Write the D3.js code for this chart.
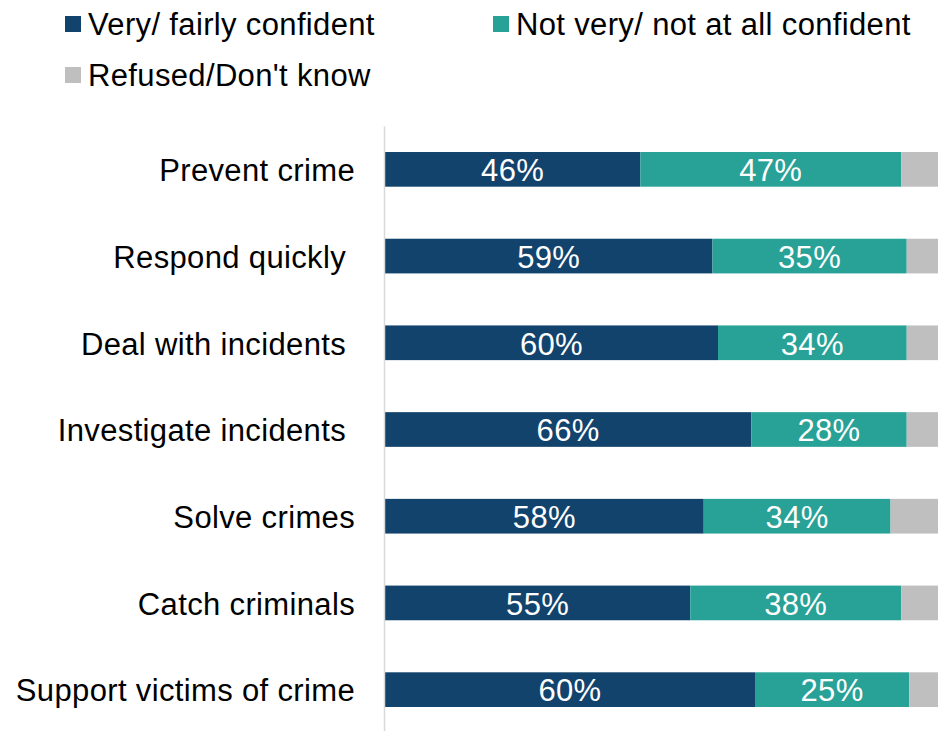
<!DOCTYPE html>
<html>
<head>
<meta charset="utf-8">
<script src="https://cdn.jsdelivr.net/npm/d3@7"></script>
<style>
  html, body { margin: 0; padding: 0; background: #fff; }
  svg { display: block; font-family: "Liberation Sans", Arial, sans-serif; }
  .tick text { white-space: pre; }
</style>
</head>
<body>
<svg id="chart" width="938" height="731"></svg>
<script>
// Police confidence survey: share of respondents per answer group
const categories = [
  "Prevent crime",
  "Respond quickly ",
  "Deal with incidents ",
  "Investigate incidents ",
  "Solve crimes",
  "Catch criminals",
  "Support victims of crime"
];
const seriesNames = ["Very/ fairly confident", "Not very/ not at all confident", "Refused/Don't know"];
const confident    = [46, 59, 60, 66, 58, 55, 60];
const notConfident = [47, 35, 34, 28, 34, 38, 25];
const refused      = [7, 6, 6, 6, 9, 7, 5];
const colors = ["#12436D", "#28A197", "#BFBFBF"];

const rows = categories.map((c, i) => ({
  category: c,
  [seriesNames[0]]: confident[i],
  [seriesNames[1]]: notConfident[i],
  [seriesNames[2]]: refused[i]
}));

const svg = d3.select("#chart");
const fontSize = 31;
const spacing = "0.35px";

// 100% stacked layout
const stacked = d3.stack().keys(seriesNames).offset(d3.stackOffsetExpand)(rows);

const x = d3.scaleLinear().domain([0, 1]).range([385, 940]);
const y = d3.scaleBand().domain(categories).range([126, 733])
  .paddingInner(0.6).paddingOuter(0.3);
const color = d3.scaleOrdinal().domain(seriesNames).range(colors);

const layers = svg.append("g").selectAll("g")
  .data(stacked)
  .join("g")
  .attr("fill", d => color(d.key));

layers.selectAll("rect")
  .data(d => d)
  .join("rect")
  .attr("x", d => x(d[0]))
  .attr("y", d => y(d.data.category))
  .attr("width", d => x(d[1]) - x(d[0]))
  .attr("height", y.bandwidth());

// value labels on the two labelled series
layers.filter((d, i) => i < 2).selectAll("text")
  .data(d => d.map(v => ({ v, key: d.key })))
  .join("text")
  .attr("x", d => (x(d.v[0]) + x(d.v[1])) / 2)
  .attr("y", d => y(d.v.data.category) + y.bandwidth() / 2)
  .attr("dy", "0.38em")
  .attr("text-anchor", "middle")
  .attr("fill", "#fff")
  .attr("font-size", fontSize)
  .attr("letter-spacing", spacing)
  .text(d => d.v.data[d.key] + "%");

// category axis
const axis = svg.append("g")
  .attr("transform", "translate(384,0)")
  .call(d3.axisLeft(y).tickSize(0).tickPadding(29));
axis.select(".domain").attr("stroke", "#D9D9D9").attr("stroke-width", 1.5);
axis.selectAll(".tick text")
  .attr("font-size", fontSize)
  .attr("font-family", "Liberation Sans, Arial, sans-serif")
  .attr("letter-spacing", spacing)
  .attr("fill", "#000")
  .attr("dy", "0.38em");

// legend
const legendPos = [
  { x: 65, y: 24 },
  { x: 493, y: 24 },
  { x: 65, y: 75 }
];
const legend = svg.append("g").selectAll("g")
  .data(seriesNames)
  .join("g")
  .attr("transform", (d, i) => `translate(${legendPos[i].x},${legendPos[i].y})`);
legend.append("rect")
  .attr("x", 0).attr("y", -8)
  .attr("width", 16).attr("height", 16)
  .attr("fill", d => color(d));
legend.append("text")
  .attr("x", 23)
  .attr("dy", "0.35em")
  .attr("font-size", fontSize)
  .attr("letter-spacing", spacing)
  .attr("fill", "#000")
  .text(d => d);
</script>
</body>
</html>
